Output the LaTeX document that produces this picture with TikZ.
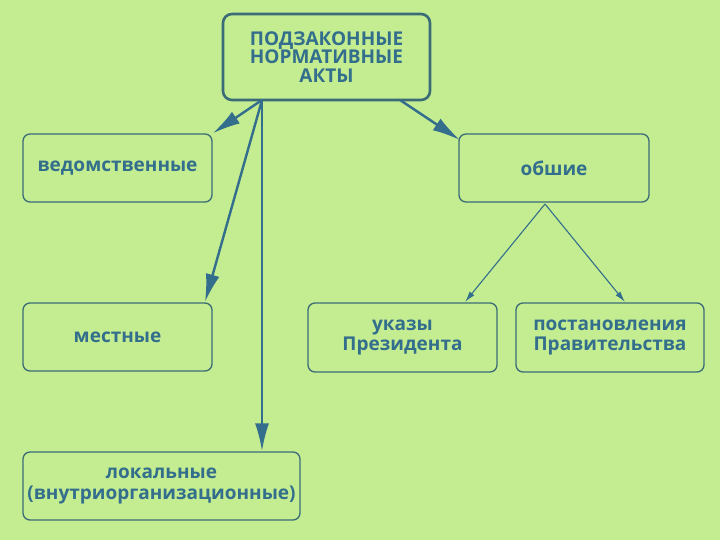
\documentclass[tikz,border=0pt]{standalone}
\usepackage{fontspec}
\setmainfont{Open Sans}
\usetikzlibrary{arrows.meta}
\definecolor{bg}{HTML}{C4EC91}
\definecolor{ink}{HTML}{336E8C}
\definecolor{frame}{HTML}{3A6C78}
\tikzset{
  box/.style={draw=frame, line width=1.3pt, rounded corners=7pt, text=ink,
    font=\bfseries\fontsize{19}{20.5}\selectfont, align=center, inner sep=0pt},
  topbox/.style={box, line width=2.6pt, rounded corners=9pt, font=\bfseries\fontsize{19}{18.5}\selectfont},
  thick arrow/.style={draw=ink, line width=2.4pt, -{Latex[length=28pt,width=14pt]}},
  thin arrow/.style={draw=ink, line width=1.1pt, -{Latex[length=11pt,width=6pt]}}
}
\begin{document}
\begin{tikzpicture}[x=1pt,y=-1pt]
\fill[bg] (0,0) rectangle (720,540);
\useasboundingbox (0,0) rectangle (720,540);
\node[topbox, minimum width=207pt, minimum height=86pt] (top) at (326.5,57) {ПОДЗАКОННЫЕ\\НОРМАТИВНЫЕ\\АКТЫ};
\node[box, minimum width=189pt, minimum height=68pt] (ved) at (117.5,168) {ведомственные};
\node[box, minimum width=190pt, minimum height=68pt] (obs) at (554,168) {обшие};
\node[box, minimum width=189pt, minimum height=68pt] (mest) at (117.5,337) {местные};
\node[box, minimum width=189pt, minimum height=69pt] (ukaz) at (402.5,337.5) {указы\\Президента};
\node[box, minimum width=188pt, minimum height=69pt] (post) at (610,337.5) {постановления\\Правительства};
\node[box, minimum width=277pt, minimum height=68pt] (lok) at (161.5,486) {локальные\\(внутриорганизационные)};
\coordinate (s1) at (262,100);
\coordinate (s2) at (400,100);
\coordinate (s3) at (545,204);
\draw[thick arrow] (s1) -- (ved.north east);
\draw[thick arrow] (s1) -- (205,302);
\draw[thick arrow] (s1) -- (s1 |- lok.north);
\draw[thick arrow] (s2) -- (460,140);
\draw[thin arrow] (s3) -- (465,302);
\draw[thin arrow] (s3) -- (625,302);
\end{tikzpicture}
\end{document}
